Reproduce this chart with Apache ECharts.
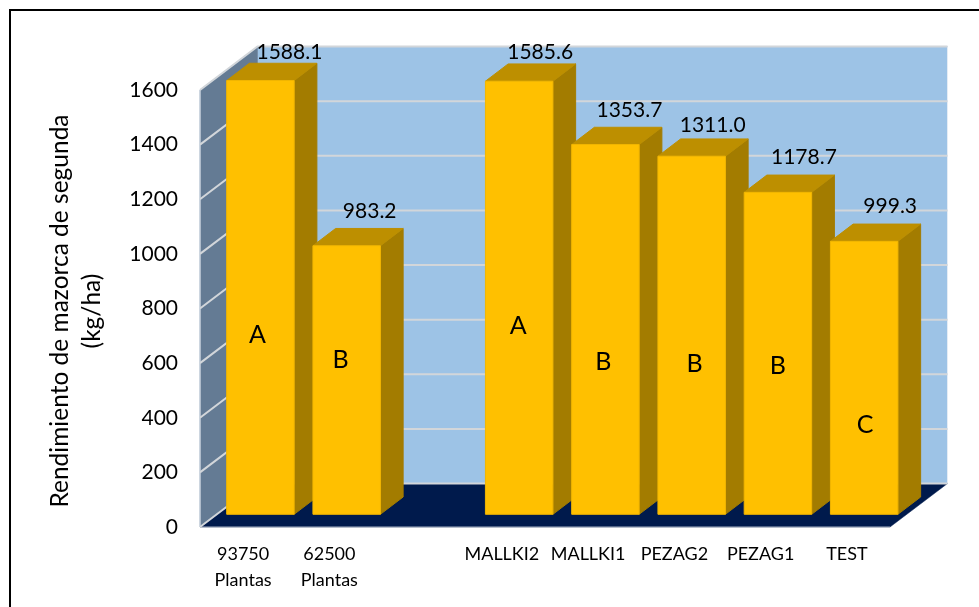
<!DOCTYPE html>
<html>
<head>
<meta charset="utf-8">
<style>
  html, body { margin: 0; padding: 0; background: #fff; }
  #chart { width: 979px; height: 607px; }
</style>
<script src="https://cdn.jsdelivr.net/npm/echarts@6/dist/echarts.min.js"></script>
</head>
<body>
<div id="chart"></div>
<script>
// index 2 is the empty slot between the two groups
var categories = ['93750\nPlantas', '62500\nPlantas', '', 'MALLKI2', 'MALLKI1', 'PEZAG2', 'PEZAG1', 'TEST'];
var yields = [1588.1, 983.2, null, 1585.6, 1353.7, 1311.0, 1178.7, 999.3];
var letters = ['A', 'B', '', 'A', 'B', 'B', 'B', 'C'];
// height on the value scale where each letter sits
var letterLevels = [657, 565, null, 690, 558, 550, 543, 327];
var yTicks = [0, 200, 400, 600, 800, 1000, 1200, 1400, 1600];

// hand placed labels in the original, px from the bar's front top corner centre
var labelNudge = [[29, -28], [23, -35], null, [21, -29], [24, -34], [21, -31], [26, -35], [26, -35]];
var letterNudge = [-3, -6, 0, -1, -2, 3, 0, 1];

var FONT = 'Lato';
var WALL_DX = 57.5, WALL_DY = 43.5;   // depth of the floor
var BAR_DX = 17.3, BAR_DY = 12.7;     // bar front plane, from the axis plane
var DEPTH_DX = 22.7, DEPTH_DY = 17.3; // depth of a bar
var BAR_WIDTH = 67.5;

var chart = echarts.init(document.getElementById('chart'));

// stroke in the fill colour, otherwise the wall shows through where faces meet
function poly(points, fill, stroke) {
  return {
    type: 'polygon',
    shape: { points: points },
    style: { fill: fill, stroke: stroke || fill, lineWidth: stroke ? 1 : 0.5 }
  };
}

function edge(points, color, width) {
  return { type: 'polyline', shape: { points: points }, style: { stroke: color, lineWidth: width, fill: null } };
}

function renderWalls(params, api) {
  var c = params.coordSys;
  var l = c.x, r = c.x + c.width, b = api.coord([0, 0])[1], t = api.coord([0, 1600])[1];
  return {
    type: 'group',
    children: [
      poly([[l + WALL_DX, t - WALL_DY], [r + WALL_DX, t - WALL_DY], [r + WALL_DX, b - WALL_DY], [l + WALL_DX, b - WALL_DY]], '#9dc3e6'),
      poly([[l, t], [l + WALL_DX, t - WALL_DY], [l + WALL_DX, b - WALL_DY], [l, b]], '#647b94'),
      poly([[l, b], [r, b], [r + WALL_DX, b - WALL_DY], [l + WALL_DX, b - WALL_DY]], '#001a4c'),
      edge([[l, b], [l, t]], '#c9d3de', 1.5),
      edge([[l, b], [r, b]], '#a9b4c4', 1),
      edge([[r + WALL_DX, b - WALL_DY], [r + WALL_DX, t - WALL_DY]], '#e4ecf5', 1)
    ]
  };
}

function renderGrid(params, api) {
  var c = params.coordSys;
  var y = api.coord([0, api.value(0)])[1];
  var l = c.x, r = c.x + c.width;
  return edge([[l, y], [l + WALL_DX, y - WALL_DY], [r + WALL_DX, y - WALL_DY]], '#d2d6da', 2);
}

function renderBar(params, api) {
  var i = params.dataIndex;
  var v = api.value(1);
  if (yields[i] === null) {
    return;
  }
  var top = api.coord([i, v]), base = api.coord([i, 0]);
  var cx = top[0] + BAR_DX;
  var x0 = cx - BAR_WIDTH / 2, x1 = cx + BAR_WIDTH / 2;
  var yt = top[1] - BAR_DY, yb = base[1] - BAR_DY;
  var letterY = api.coord([i, letterLevels[i]])[1] - BAR_DY;
  return {
    type: 'group',
    children: [
      poly([[x1, yt], [x1 + DEPTH_DX, yt - DEPTH_DY], [x1 + DEPTH_DX, yb - DEPTH_DY], [x1, yb]], '#a37c00', '#a37c00'),
      poly([[x0, yt], [x0 + DEPTH_DX, yt - DEPTH_DY], [x1 + DEPTH_DX, yt - DEPTH_DY], [x1, yt]], '#bd8f00', '#bd8f00'),
      poly([[x0, yt], [x1, yt], [x1, yb], [x0, yb]], '#ffc000', '#f2b600'),
      {
        type: 'text', z2: 10,
        x: cx + labelNudge[i][0], y: yt + labelNudge[i][1],
        style: { text: v.toFixed(1), font: '21px ' + FONT, fill: '#000', align: 'center', verticalAlign: 'middle' }
      },
      {
        type: 'text', z2: 10,
        x: cx + letterNudge[i], y: letterY,
        style: { text: letters[i], font: '25px ' + FONT, fill: '#000', align: 'center', verticalAlign: 'middle' }
      }
    ]
  };
}

chart.setOption({
  animation: false,
  backgroundColor: '#fff',
  grid: { left: 200, right: 89, top: 90, bottom: 80 },
  xAxis: {
    type: 'category',
    data: categories,
    axisLine: { show: false },
    axisTick: { show: false },
    splitLine: { show: false },
    axisLabel: { interval: 0, margin: 14, color: '#000', fontFamily: FONT, fontSize: 18, lineHeight: 26 }
  },
  yAxis: {
    type: 'value',
    min: 0,
    max: 1600,
    interval: 200,
    axisLine: { show: false },
    axisTick: { show: false },
    splitLine: { show: false },
    axisLabel: {
      margin: 22, color: '#000', fontFamily: FONT, fontSize: 21, padding: [3, 0, 0, 0],
      formatter: function (v) { return String(v); }
    },
    name: 'Rendimiento de mazorca de segunda\n(kg/ha)',
    nameLocation: 'middle',
    nameGap: 92,
    nameTextStyle: { color: '#000', fontFamily: FONT, fontSize: 24.5, lineHeight: 32, padding: [0, 5, 0, 0] }
  },
  graphic: [{
    type: 'polyline',
    shape: { points: [[10, 607], [10, 10], [979, 10]] },
    style: { stroke: '#000', lineWidth: 2, fill: null }
  }],
  series: [
    { type: 'custom', z: 1, silent: true, data: [0], renderItem: renderWalls },
    { type: 'custom', z: 2, silent: true, data: yTicks.map(function (t) { return [t]; }), encode: { y: 0 }, renderItem: renderGrid },
    { type: 'custom', z: 3, silent: true, data: yields.map(function (v, i) { return [i, v]; }), encode: { x: 0, y: 1 }, renderItem: renderBar }
  ]
});
</script>
</body>
</html>
